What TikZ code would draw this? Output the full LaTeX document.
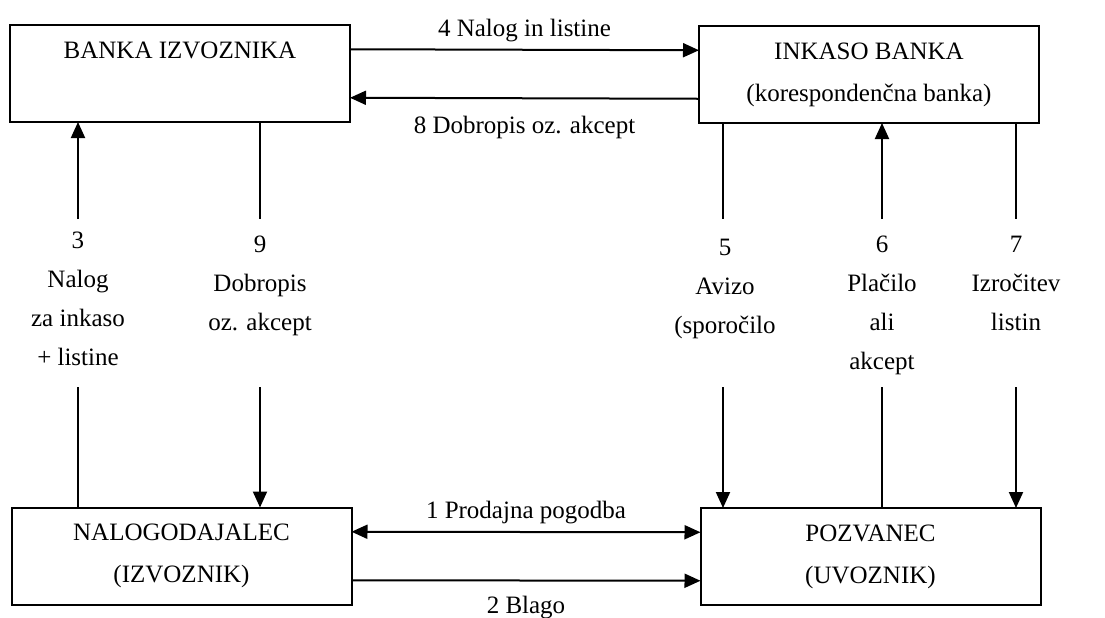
\documentclass[tikz,border=0pt]{standalone}
\usepackage{fontspec}
\setmainfont{Liberation Serif}
\usetikzlibrary{arrows.meta, positioning, calc}

\begin{document}
\begin{tikzpicture}[
  x=0.5pt, y=-0.5pt,
  font=\fontsize{12.5}{19.5}\selectfont,
  line width=1pt,
  party/.style={draw, minimum width=170pt, minimum height=48.5pt, inner sep=0pt, outer sep=0pt, align=center, font=\fontsize{12.5}{21}\selectfont},
  lab/.style={align=center, inner sep=0pt, anchor=north},
  arr/.style={-{Triangle[length=8pt, width=7pt]}},
  darr/.style={{Triangle[length=8pt, width=7pt]}-{Triangle[length=8pt, width=7pt]}}
]
  \useasboundingbox (0,0) rectangle (1105,617);

  % Banks (top row)
  \node[party] (bi) at (180, 73.5) {BANKA IZVOZNIKA\\\phantom{(I)}};
  \node[party] (ib) at (869, 74.5) {INKASO BANKA\\(korespondenčna banka)};

  % Exporter and importer (bottom row)
  \node[party] (ni) at (181.5, 556) {NALOGODAJALEC\\(IZVOZNIK)};
  \node[party] (po) at (870.5, 556.5) {POZVANEC\\(UVOZNIK)};

  % Between the banks
  \draw[arr] ($(bi.north east)!0.25!(bi.south east)$) -- node[above] {4 Nalog in listine} ($(ib.north west)!0.25!(ib.south west)$);
  \draw[arr] ($(ib.north west)!0.75!(ib.south west)$) -- node[below=5pt] {8 Dobropis oz. akcept} ($(bi.north east)!0.75!(bi.south east)$);

  % Between exporter and importer
  \draw[darr] ($(ni.north east)!0.25!(ni.south east)$) -- node[above] {1 Prodajna pogodba} ($(po.north west)!0.25!(po.south west)$);
  \draw[arr] ($(ni.north east)!0.75!(ni.south east)$) -- node[below=4pt] {2 Blago} ($(po.north west)!0.75!(po.south west)$);

  % Vertical flows: labels and line ends
  \node[lab] (l3) at (78, 231) {3\\Nalog\\za inkaso\\+ listine};
  \node[lab] (l9) at (260, 235) {9\\Dobropis\\oz. akcept};
  \node[lab] (l5) at (725, 238) {5\\Avizo\\(sporočilo};
  \node[lab] (l6) at (882, 235) {6\\Plačilo\\ali\\akcept};
  \node[lab] (l7) at (1016, 235) {7\\Izročitev\\listin};

  \foreach \c/\x in {3/78, 9/260, 5/723, 6/882, 7/1016} {
    \coordinate (t\c) at (\x, 219);
    \coordinate (b\c) at (\x, 387);
  }

  \draw[arr] (t3) -- (bi.south -| t3);
  \draw (b3) -- (ni.north -| b3);
  \draw (bi.south -| t9) -- (t9);
  \draw[arr] (b9) -- (ni.north -| b9);
  \draw (ib.south -| t5) -- (t5);
  \draw[arr] (b5) -- (po.north -| b5);
  \draw[arr] (t6) -- (ib.south -| t6);
  \draw (b6) -- (po.north -| b6);
  \draw (ib.south -| t7) -- (t7);
  \draw[arr] (b7) -- (po.north -| b7);
\end{tikzpicture}
\end{document}
